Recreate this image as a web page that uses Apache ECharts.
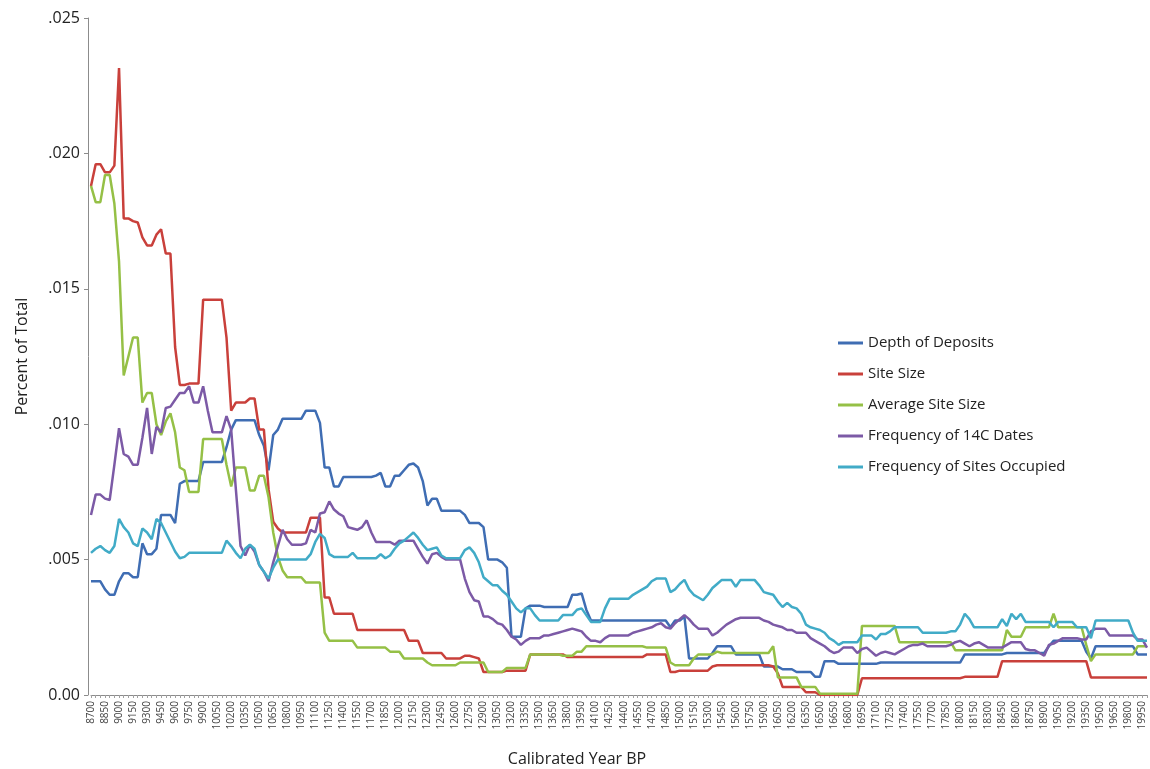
<!DOCTYPE html>
<html>
<head>
<meta charset="utf-8">
<title>Calibrated Year BP – Percent of Total</title>
<script src="https://cdn.jsdelivr.net/npm/echarts@6/dist/echarts.min.js"></script>
<style>
  html, body { margin: 0; padding: 0; background: #ffffff; }
  #chart { width: 1150px; height: 769px; }
</style>
</head>
<body>
<div id="chart"></div>
<script>
// Calibrated years BP, one category every 50 years
const firstYear = 8700;
const lastYear = 20000;
const yearStep = 50;

// Series values in thousandths of the total (per mille), one per 50-year step
const depthOfDeposits = [
  4.2,4.2,4.2,3.9,3.7,3.7,4.2,4.5,4.5,4.35,
  4.35,5.6,5.2,5.2,5.4,6.65,6.65,6.65,6.35,7.8,
  7.9,7.9,7.9,7.9,8.6,8.6,8.6,8.6,8.6,9.15,
  9.8,10.15,10.15,10.15,10.15,10.15,9.6,9.2,8.3,9.6,
  9.8,10.2,10.2,10.2,10.2,10.2,10.5,10.5,10.5,10.05,
  8.4,8.4,7.7,7.7,8.05,8.05,8.05,8.05,8.05,8.05,
  8.05,8.1,8.2,7.7,7.7,8.1,8.1,8.3,8.5,8.55,
  8.4,7.9,7.0,7.25,7.25,6.8,6.8,6.8,6.8,6.8,
  6.65,6.35,6.35,6.35,6.2,5.0,5.0,5.0,4.9,4.7,
  2.15,2.15,2.15,3.2,3.3,3.3,3.3,3.25,3.25,3.25,
  3.25,3.25,3.25,3.7,3.7,3.75,3.15,2.75,2.75,2.75,
  2.75,2.75,2.75,2.75,2.75,2.75,2.75,2.75,2.75,2.75,
  2.75,2.75,2.75,2.75,2.5,2.75,2.75,2.9,1.35,1.35,
  1.35,1.35,1.35,1.55,1.8,1.8,1.8,1.8,1.5,1.5,
  1.5,1.5,1.5,1.5,1.05,1.05,1.05,1.05,0.95,0.95,
  0.95,0.85,0.85,0.85,0.85,0.67,0.67,1.25,1.25,1.25,
  1.15,1.15,1.15,1.15,1.15,1.15,1.15,1.15,1.15,1.2,
  1.2,1.2,1.2,1.2,1.2,1.2,1.2,1.2,1.2,1.2,
  1.2,1.2,1.2,1.2,1.2,1.2,1.2,1.5,1.5,1.5,
  1.5,1.5,1.5,1.5,1.5,1.5,1.55,1.55,1.55,1.55,
  1.55,1.55,1.55,1.55,1.55,1.8,2.0,2.0,2.0,2.0,
  2.0,2.0,2.0,1.6,1.35,1.8,1.8,1.8,1.8,1.8,
  1.8,1.8,1.8,1.8,1.5,1.5,1.5
];

const siteSize = [
  18.8,19.6,19.6,19.3,19.3,19.55,23.15,17.6,17.6,17.5,
  17.45,16.9,16.6,16.6,17.0,17.2,16.3,16.3,12.85,11.45,
  11.45,11.5,11.5,11.5,14.6,14.6,14.6,14.6,14.6,13.2,
  10.5,10.8,10.8,10.8,10.95,10.95,9.8,9.8,7.6,6.4,
  6.15,6.0,6.0,6.0,6.0,6.0,6.0,6.55,6.55,6.55,
  3.6,3.6,3.0,3.0,3.0,3.0,3.0,2.4,2.4,2.4,
  2.4,2.4,2.4,2.4,2.4,2.4,2.4,2.4,2.0,2.0,
  2.0,1.55,1.55,1.55,1.55,1.55,1.35,1.35,1.35,1.35,
  1.45,1.45,1.4,1.35,0.85,0.85,0.85,0.85,0.85,0.9,
  0.9,0.9,0.9,0.9,1.5,1.5,1.5,1.5,1.5,1.5,
  1.5,1.5,1.4,1.4,1.4,1.4,1.4,1.4,1.4,1.4,
  1.4,1.4,1.4,1.4,1.4,1.4,1.4,1.4,1.4,1.5,
  1.5,1.5,1.5,1.5,0.85,0.85,0.9,0.9,0.9,0.9,
  0.9,0.9,0.9,1.05,1.1,1.1,1.1,1.1,1.1,1.1,
  1.1,1.1,1.1,1.1,1.1,1.1,1.05,0.8,0.3,0.3,
  0.3,0.3,0.3,0.1,0.1,0.1,0,0,0,0,
  0,0,0,0,0,0.62,0.62,0.62,0.62,0.62,
  0.62,0.62,0.62,0.62,0.62,0.62,0.62,0.62,0.62,0.62,
  0.62,0.62,0.62,0.62,0.62,0.62,0.62,0.67,0.67,0.67,
  0.67,0.67,0.67,0.67,0.67,1.25,1.25,1.25,1.25,1.25,
  1.25,1.25,1.25,1.25,1.25,1.25,1.25,1.25,1.25,1.25,
  1.25,1.25,1.25,1.25,0.65,0.65,0.65,0.65,0.65,0.65,
  0.65,0.65,0.65,0.65,0.65,0.65,0.65
];

const averageSiteSize = [
  18.8,18.2,18.2,19.2,19.2,18.15,16.0,11.8,12.5,13.2,
  13.2,10.8,11.15,11.15,10.0,9.6,10.1,10.4,9.7,8.4,
  8.3,7.5,7.5,7.5,9.45,9.45,9.45,9.45,9.45,8.5,
  7.7,8.4,8.4,8.4,7.55,7.55,8.1,8.1,7.3,6.0,
  5.1,4.6,4.35,4.35,4.35,4.35,4.15,4.15,4.15,4.15,
  2.3,2.0,2.0,2.0,2.0,2.0,2.0,1.75,1.75,1.75,
  1.75,1.75,1.75,1.75,1.6,1.6,1.6,1.35,1.35,1.35,
  1.35,1.35,1.2,1.1,1.1,1.1,1.1,1.1,1.1,1.2,
  1.2,1.2,1.2,1.2,1.2,0.85,0.85,0.85,0.85,1.0,
  1.0,1.0,1.0,1.0,1.5,1.5,1.5,1.5,1.5,1.5,
  1.5,1.45,1.45,1.45,1.6,1.6,1.8,1.8,1.8,1.8,
  1.8,1.8,1.8,1.8,1.8,1.8,1.8,1.8,1.8,1.75,
  1.75,1.75,1.75,1.75,1.2,1.1,1.1,1.1,1.1,1.35,
  1.5,1.5,1.5,1.5,1.6,1.55,1.55,1.55,1.55,1.55,
  1.55,1.55,1.55,1.55,1.55,1.55,1.8,0.65,0.65,0.65,
  0.65,0.65,0.3,0.3,0.3,0.3,0.05,0.05,0.05,0.05,
  0.05,0.05,0.05,0.05,0.05,2.55,2.55,2.55,2.55,2.55,
  2.55,2.55,2.55,1.95,1.95,1.95,1.95,1.95,1.95,1.95,
  1.95,1.95,1.95,1.95,1.95,1.65,1.65,1.65,1.65,1.65,
  1.65,1.65,1.65,1.65,1.65,1.65,2.4,2.15,2.15,2.15,
  2.5,2.5,2.5,2.5,2.5,2.5,3.0,2.5,2.5,2.5,
  2.5,2.5,2.5,1.85,1.25,1.5,1.5,1.5,1.5,1.5,
  1.5,1.5,1.5,1.5,1.8,1.8,1.8
];

const frequencyOf14CDates = [
  6.65,7.4,7.4,7.25,7.2,8.5,9.85,8.9,8.8,8.5,
  8.5,9.5,10.6,8.9,9.9,9.7,10.6,10.65,10.9,11.15,
  11.15,11.4,10.8,10.8,11.4,10.5,9.7,9.7,9.7,10.3,
  9.8,7.6,5.5,5.15,5.55,5.3,4.8,4.55,4.2,4.9,
  5.5,6.1,5.75,5.55,5.55,5.55,5.6,6.1,6.0,6.7,
  6.75,7.15,6.85,6.7,6.6,6.2,6.15,6.1,6.2,6.45,
  6.0,5.65,5.65,5.65,5.65,5.55,5.7,5.7,5.7,5.7,
  5.4,5.1,4.85,5.2,5.25,5.1,5.0,5.0,5.0,5.0,
  4.3,3.8,3.5,3.45,2.9,2.9,2.8,2.65,2.6,2.4,
  2.15,2.05,1.85,2.0,2.1,2.1,2.1,2.2,2.2,2.25,
  2.3,2.35,2.4,2.45,2.4,2.35,2.15,2.0,2.0,1.95,
  2.1,2.2,2.2,2.2,2.2,2.2,2.3,2.35,2.4,2.45,
  2.5,2.6,2.65,2.5,2.45,2.65,2.8,2.95,2.8,2.6,
  2.45,2.45,2.45,2.2,2.3,2.45,2.6,2.7,2.8,2.85,
  2.85,2.85,2.85,2.85,2.75,2.7,2.6,2.55,2.5,2.4,
  2.4,2.3,2.3,2.3,2.1,2.0,1.9,1.8,1.65,1.55,
  1.6,1.75,1.75,1.75,1.55,1.7,1.75,1.6,1.45,1.55,
  1.6,1.55,1.5,1.6,1.7,1.8,1.85,1.85,1.9,1.8,
  1.8,1.8,1.8,1.8,1.85,1.95,2.0,1.9,1.8,1.9,
  1.95,1.85,1.75,1.75,1.75,1.75,1.85,1.95,1.95,1.95,
  1.7,1.65,1.65,1.55,1.45,1.85,1.9,2.0,2.1,2.1,
  2.1,2.1,2.05,2.05,2.35,2.45,2.45,2.45,2.2,2.2,
  2.2,2.2,2.2,2.2,2.05,2.05,1.75
];

const frequencyOfSitesOccupied = [
  5.25,5.4,5.5,5.35,5.25,5.5,6.5,6.2,6.0,5.6,
  5.5,6.15,6.0,5.75,6.5,6.35,6.0,5.65,5.3,5.05,
  5.1,5.25,5.25,5.25,5.25,5.25,5.25,5.25,5.25,5.7,
  5.5,5.25,5.05,5.4,5.55,5.4,4.8,4.55,4.3,4.7,
  5.0,5.0,5.0,5.0,5.0,5.0,5.0,5.2,5.65,5.95,
  5.8,5.2,5.1,5.1,5.1,5.1,5.25,5.05,5.05,5.05,
  5.05,5.05,5.2,5.05,5.15,5.4,5.6,5.7,5.85,6.0,
  5.8,5.55,5.35,5.4,5.45,5.15,5.05,5.05,5.05,5.05,
  5.35,5.45,5.25,4.9,4.35,4.2,4.05,4.05,3.85,3.7,
  3.45,3.2,3.05,3.2,3.2,2.95,2.75,2.75,2.75,2.75,
  2.75,2.95,2.95,2.95,3.15,3.2,2.95,2.7,2.7,2.7,
  3.2,3.55,3.55,3.55,3.55,3.55,3.7,3.8,3.9,4.0,
  4.2,4.3,4.3,4.3,3.8,3.9,4.1,4.25,3.9,3.7,
  3.6,3.5,3.7,3.95,4.1,4.25,4.25,4.25,4.0,4.25,
  4.25,4.25,4.25,4.05,3.8,3.75,3.7,3.45,3.25,3.4,
  3.25,3.2,3.0,2.6,2.5,2.45,2.4,2.3,2.1,2.0,
  1.85,1.95,1.95,1.95,1.95,2.2,2.2,2.2,2.05,2.25,
  2.25,2.35,2.5,2.5,2.5,2.5,2.5,2.5,2.3,2.3,
  2.3,2.3,2.3,2.3,2.35,2.35,2.6,3.0,2.8,2.5,
  2.5,2.5,2.5,2.5,2.5,2.8,2.55,3.0,2.8,3.0,
  2.7,2.7,2.7,2.7,2.7,2.7,2.5,2.7,2.7,2.7,
  2.7,2.5,2.5,2.5,2.1,2.75,2.75,2.75,2.75,2.75,
  2.75,2.75,2.75,2.3,2.0,2.0,2.0
];

const seriesNames = [
  'Depth of Deposits',
  'Site Size',
  'Average Site Size',
  'Frequency of 14C Dates',
  'Frequency of Sites Occupied'
];
const seriesColors = ['#3f6db3', '#c9403b', '#95c046', '#7c5aa6', '#41abc7'];
const yTickValues = [0, 0.005, 0.010, 0.015, 0.020, 0.025];

const years = [];
for (let y = firstYear; y <= lastYear; y += yearStep) years.push(String(y));

// per mille -> fraction of total
const perMilleToFraction = v => v / 1000;
const seriesValues = [
  depthOfDeposits, siteSize, averageSiteSize,
  frequencyOf14CDates, frequencyOfSitesOccupied
].map(arr => arr.map(perMilleToFraction));

const fontFamily = '"Open Sans", "DejaVu Sans", sans-serif';
const chart = echarts.init(document.getElementById('chart'), null, { renderer: 'canvas' });

chart.setOption({
  backgroundColor: '#ffffff',
  animation: false,
  color: seriesColors,
  grid: {
    left: 91, right: 3, top: 18, bottom: 74,
    containLabel: false,
    outerBoundsMode: 'none'
  },
  legend: {
    orient: 'vertical',
    left: 833,
    top: 328,
    itemWidth: 25,
    itemHeight: 3,
    itemGap: 11,
    icon: 'rect',
    data: seriesNames,
    textStyle: { fontFamily, fontSize: 15, color: '#222', lineHeight: 20 }
  },
  xAxis: {
    type: 'category',
    data: years,
    boundaryGap: false,
    name: 'Calibrated Year BP',
    nameLocation: 'middle',
    nameGap: 56,
    nameTextStyle: { fontFamily, fontSize: 16, color: '#222', padding: [0, 84, 0, 0] },
    axisLine: { lineStyle: { color: '#8c8c8c', width: 1 } },
    axisTick: { show: true, interval: 0, length: 3, lineStyle: { color: '#a0a0a0' } },
    axisLabel: {
      interval: 2,
      rotate: 90,
      fontFamily,
      fontSize: 10,
      color: '#444',
      margin: 6
    },
    splitLine: { show: false }
  },
  yAxis: {
    type: 'value',
    offset: 3,
    min: yTickValues[0],
    max: yTickValues[yTickValues.length - 1],
    interval: 0.005,
    name: 'Percent of Total',
    nameLocation: 'middle',
    nameRotate: 90,
    nameGap: 58,
    nameTextStyle: { fontFamily, fontSize: 16, color: '#222' },
    axisLine: { show: true, lineStyle: { color: '#8c8c8c', width: 1 } },
    axisTick: { show: true, length: 4, lineStyle: { color: '#8c8c8c' } },
    axisLabel: {
      fontFamily,
      fontSize: 16,
      color: '#222',
      margin: 8,
      formatter: v => (v === 0 ? '0.00' : v.toFixed(3).replace(/^0/, ''))
    },
    splitLine: { show: false }
  },
  series: seriesNames.map((name, i) => ({
    name,
    type: 'line',
    data: seriesValues[i],
    showSymbol: false,
    symbol: 'none',
    smooth: false,
    lineStyle: { width: 2.5, color: seriesColors[i] },
    itemStyle: { color: seriesColors[i] }
  }))
});
</script>
</body>
</html>
